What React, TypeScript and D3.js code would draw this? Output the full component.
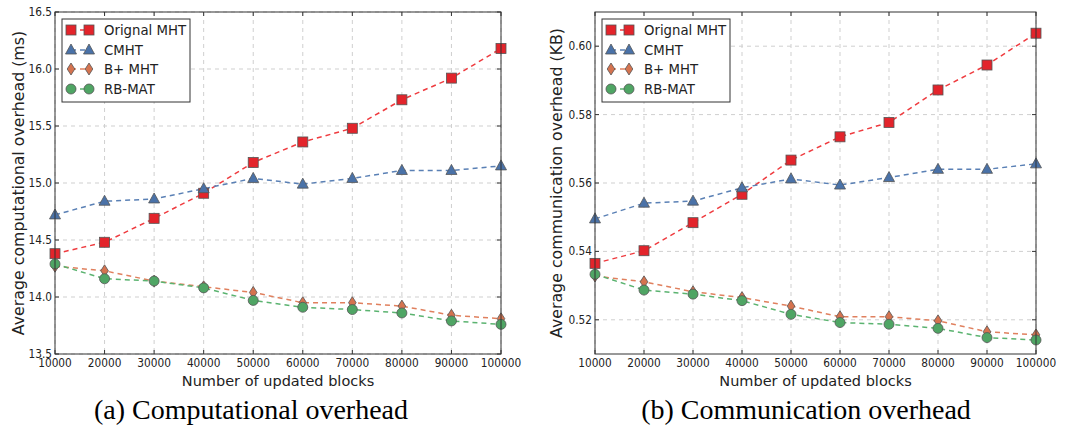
import React from "react";
import * as d3 from "d3";

const blocks = [10000, 20000, 30000, 40000, 50000, 60000, 70000, 80000, 90000, 100000];
const seriesNames = ["Orignal MHT", "CMHT", "B+ MHT", "RB-MAT"];

const compOriginal = [14.38, 14.48, 14.69, 14.91, 15.18, 15.36, 15.48, 15.73, 15.92, 16.18];
const compCMHT = [14.72, 14.84, 14.86, 14.95, 15.04, 14.99, 15.04, 15.11, 15.11, 15.15];
const compBplus = [14.27, 14.23, 14.14, 14.09, 14.04, 13.95, 13.95, 13.92, 13.84, 13.81];
const compRB = [14.29, 14.16, 14.14, 14.08, 13.97, 13.91, 13.89, 13.86, 13.79, 13.76];

const commOriginal = [0.5365, 0.5402, 0.5484, 0.5567, 0.5667, 0.5735, 0.5777, 0.5872, 0.5945, 0.6038];
const commCMHT = [0.5495, 0.5541, 0.5547, 0.5586, 0.5612, 0.5594, 0.5616, 0.564, 0.564, 0.5656];
const commBplus = [0.5328, 0.5311, 0.5282, 0.5265, 0.524, 0.5209, 0.5209, 0.5197, 0.5165, 0.5156];
const commRB = [0.5333, 0.5287, 0.5275, 0.5256, 0.5216, 0.5192, 0.5187, 0.5175, 0.5148, 0.5141];

const compTicks = [13.5, 14.0, 14.5, 15.0, 15.5, 16.0, 16.5];
const commTicks = [0.52, 0.54, 0.56, 0.58, 0.6];

const fills = ["#e3242b", "#4a72a8", "#d5734f", "#4fa564"];
const lineColors = ["#ef3b3f", "#5a80b5", "#e0805e", "#5bb370"];
const shapes = ["square", "triangle", "diamond", "circle"];

const SANS = "'DejaVu Sans', sans-serif";

function Marker({ shape, x, y, fill }: { shape: string; x: number; y: number; fill: string }) {
  const stroke = "#555";
  const sw = 0.8;
  if (shape === "square") return <rect x={x - 5} y={y - 5} width={10} height={10} fill={fill} stroke={stroke} strokeWidth={sw} />;
  if (shape === "triangle") return <path d={`M${x},${y - 6} L${x + 5.5},${y + 4} L${x - 5.5},${y + 4} Z`} fill={fill} stroke={stroke} strokeWidth={sw} />;
  if (shape === "diamond") return <path d={`M${x},${y - 6} L${x + 3.8},${y} L${x},${y + 6} L${x - 3.8},${y} Z`} fill={fill} stroke={stroke} strokeWidth={sw} />;
  return <circle cx={x} cy={y} r={5} fill={fill} stroke={stroke} strokeWidth={sw} />;
}

function HText({ x, y, children, size, anchor, sx = 1, fill = "#222", family = SANS }: any) {
  return (
    <g transform={`translate(${x},${y}) scale(${sx},1)`}>
      <text x={0} y={0} fontSize={size} fontFamily={family} textAnchor={anchor} fill={fill}>{children}</text>
    </g>
  );
}

function Panel({ x0, x1, y0, y1, domain, ticks, fmt, series, yLabel, yLabelX, caption, captionX }: any) {
  const xs = d3.scaleLinear().domain([10000, 100000]).range([x0, x1]);
  const ys = d3.scaleLinear().domain(domain).range([y1, y0]);
  const line = d3.line<number>().x((_, i) => xs(blocks[i])).y((d) => ys(d));
  const frame = "#333";
  return (
    <g>
      {/* grid */}
      {blocks.map((b) => (
        <line key={"gx" + b} x1={xs(b)} x2={xs(b)} y1={y0} y2={y1} stroke="#cfcfcf" strokeWidth={1} strokeDasharray="4,4" />
      ))}
      {ticks.map((t: number) => (
        <line key={"gy" + t} x1={x0} x2={x1} y1={ys(t)} y2={ys(t)} stroke="#cfcfcf" strokeWidth={1} strokeDasharray="4,4" />
      ))}
      {/* series */}
      {series.map((vals: number[], si: number) => (
        <path key={"l" + si} d={line(vals) || ""} fill="none" stroke={lineColors[si]} strokeWidth={1.5} strokeDasharray="5,4" />
      ))}
      {series.map((vals: number[], si: number) => (
        <g key={"m" + si}>
          {vals.map((v, i) => (
            <Marker key={i} shape={shapes[si]} x={xs(blocks[i])} y={ys(v)} fill={fills[si]} />
          ))}
        </g>
      ))}
      {/* frame */}
      <rect x={x0} y={y0} width={x1 - x0} height={y1 - y0} fill="none" stroke={frame} strokeWidth={1} />
      {/* ticks */}
      {blocks.map((b) => (
        <g key={"tx" + b}>
          <line x1={xs(b)} x2={xs(b)} y1={y1} y2={y1 - 4} stroke={frame} />
          <line x1={xs(b)} x2={xs(b)} y1={y0} y2={y0 + 4} stroke={frame} />
          <HText x={xs(b)} y={y1 + 13} size={12} sx={0.88} anchor="middle">{b}</HText>
        </g>
      ))}
      {ticks.map((t: number) => (
        <g key={"ty" + t}>
          <line x1={x0} x2={x0 + 4} y1={ys(t)} y2={ys(t)} stroke={frame} />
          <line x1={x1} x2={x1 - 4} y1={ys(t)} y2={ys(t)} stroke={frame} />
          <HText x={x0 - 3} y={ys(t) + 4} size={12} sx={0.88} anchor="end">{fmt(t)}</HText>
        </g>
      ))}
      {/* labels */}
      <HText x={(x0 + x1) / 2} y={y1 + 32} size={14.5} anchor="middle">Number of updated blocks</HText>
      <text transform={`translate(${yLabelX},${(y0 + y1) / 2}) rotate(-90)`} fontSize={15.8} fontFamily={SANS} textAnchor="middle" fill="#222">{yLabel}</text>
      <text x={captionX} y={419} fontSize={28} fontFamily="'Liberation Serif', 'Times New Roman', serif" textAnchor="middle" fill="#000">{caption}</text>
      {/* legend */}
      <rect x={x0 + 7} y={19} width={128} height={83} fill="#fff" stroke={frame} strokeWidth={1} />
      {seriesNames.map((name, si) => {
        const ly = [30, 50, 69, 89][si];
        return (
          <g key={"lg" + si}>
            <line x1={x0 + 16} x2={x0 + 34} y1={ly} y2={ly} stroke={lineColors[si]} strokeWidth={1.5} strokeDasharray="5,4" />
            <Marker shape={shapes[si]} x={x0 + 16} y={ly} fill={fills[si]} />
            <Marker shape={shapes[si]} x={x0 + 34} y={ly} fill={fills[si]} />
            <HText x={x0 + 49} y={ly + 5} size={14} sx={0.95} anchor="start">{name}</HText>
          </g>
        );
      })}
    </g>
  );
}

export default function App() {
  return (
    <svg width={1085} height={431} style={{ position: "absolute", left: 0, top: 0, background: "#fff" }}>
      <rect width={1085} height={431} fill="#fff" />
      <Panel
        x0={55} x1={501} y0={12} y1={354}
        domain={[13.5, 16.5]} ticks={compTicks} fmt={(t: number) => t.toFixed(1)}
        series={[compOriginal, compCMHT, compBplus, compRB]}
        yLabel="Average computational overhead (ms)" yLabelX={23.5}
        caption="(a) Computational overhead" captionX={251}
      />
      <Panel
        x0={595} x1={1036} y0={12} y1={354}
        domain={[0.51, 0.61]} ticks={commTicks} fmt={(t: number) => t.toFixed(2)}
        series={[commOriginal, commCMHT, commBplus, commRB]}
        yLabel="Average communication overhead (KB)" yLabelX={562}
        caption="(b) Communication overhead" captionX={806}
      />
    </svg>
  );
}
